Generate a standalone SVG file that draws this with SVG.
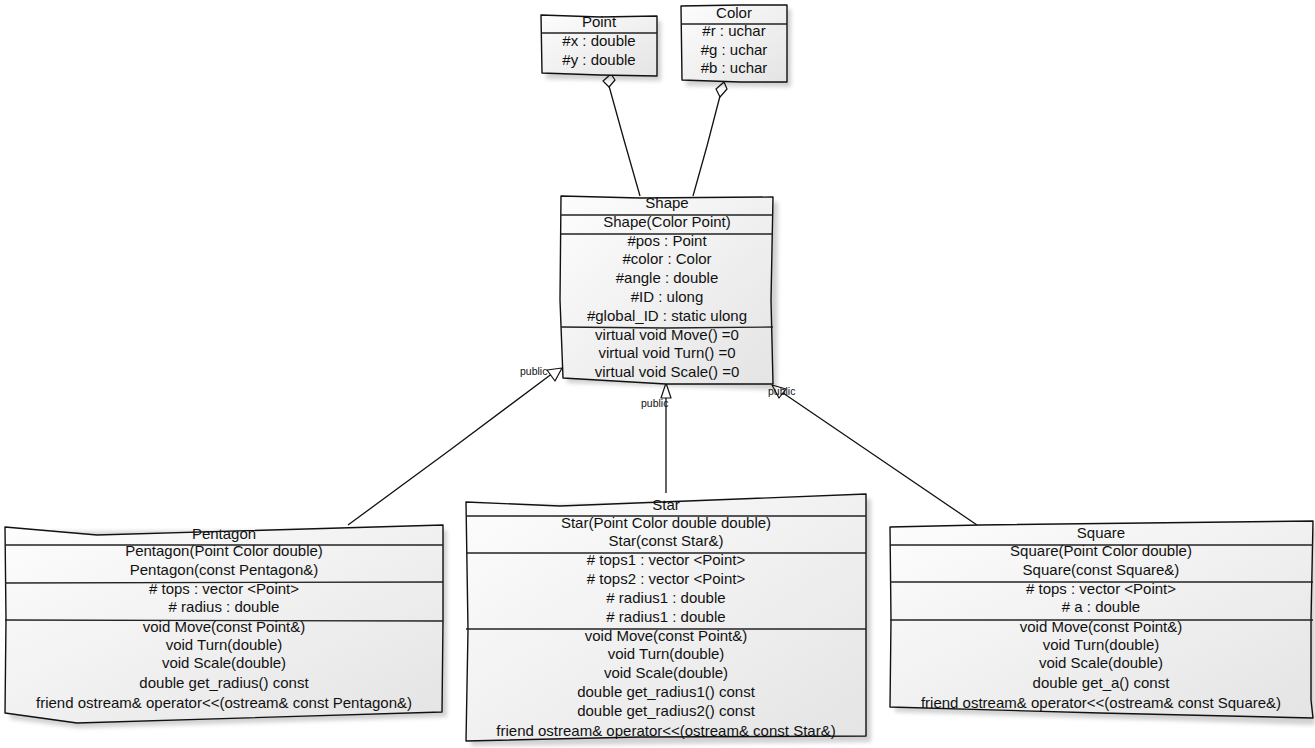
<svg xmlns="http://www.w3.org/2000/svg" width="1315" height="748" viewBox="0 0 1315 748">
  <style>
    .box { fill: url(#boxFill); stroke: #111; stroke-width: 1.4; stroke-linejoin: round; }
    .shadow { fill: #000; opacity: 0.18; filter: url(#soft); }
    .sep { fill: none; stroke: #222; stroke-width: 1.3; }
    .edge { fill: none; stroke: #111; stroke-width: 1.3; }
    .head { fill: #fff; stroke: #111; stroke-width: 1.2; stroke-linejoin: round; }
    text { font-family: "Liberation Sans", Arial, sans-serif; font-size: 15px; fill: #111; text-anchor: middle; }
    .lbl { font-size: 10.5px; text-anchor: start; fill: #111; }
  </style>
  <defs>
    <linearGradient id="boxFill" x1="0" y1="0" x2="1" y2="1">
      <stop offset="0" stop-color="#fdfdfd"/>
      <stop offset="1" stop-color="#e4e4e4"/>
    </linearGradient>
    <filter id="soft" x="-10%" y="-10%" width="120%" height="120%">
      <feGaussianBlur stdDeviation="2"/>
    </filter>
  </defs>

  <rect width="1315" height="748" fill="#fff"/>

  <!-- relationships -->
  <g id="connectors">
    <!-- aggregation Shape -> Point -->
    <polyline class="edge" points="609,86 624,140 640,196"/>
    <polygon class="head" points="611,74 615,80 609,87 603,81"/>
    <!-- aggregation Shape -> Color -->
    <polyline class="edge" points="720,96 707,146 693,196"/>
    <polygon class="head" points="724,82 727,89 720,97 716,89"/>
    <!-- Pentagon inherits Shape -->
    <polyline class="edge" points="348,525 450,450 553,373"/>
    <polygon class="head" points="562,368 547,370 555,381"/>
    <text class="lbl" x="520" y="375">public</text>
    <!-- Star inherits Shape -->
    <polyline class="edge" points="666,493 666,440 666,396"/>
    <polygon class="head" points="666,383 661,398 671,398"/>
    <text class="lbl" x="641" y="407">public</text>
    <!-- Square inherits Shape -->
    <polyline class="edge" points="977,525 880,459 783,393"/>
    <polygon class="head" points="772,385 779,398 786,389"/>
    <text class="lbl" x="768" y="395">public</text>
  </g>

  <!-- Point -->
  <g id="point">
    <polygon class="shadow" points="545,20 661,21 661,81 546,79"/>
    <polygon class="box" points="541,15 600,17 657,16 657,76 600,75 542,73"/>
    <polyline class="sep" points="541,33 657,33"/>
    <text x="599" y="27">Point</text>
    <text x="599" y="46">#x : double</text>
    <text x="599" y="65">#y : double</text>
  </g>

  <!-- Color -->
  <g id="color">
    <polygon class="shadow" points="685,10 791,9 791,87 686,86"/>
    <polygon class="box" points="681,6 740,5 787,5 787,82 740,82 682,80"/>
    <polyline class="sep" points="681,24 787,24"/>
    <text x="734" y="18">Color</text>
    <text x="734" y="36">#r : uchar</text>
    <text x="734" y="55">#g : uchar</text>
    <text x="734" y="73">#b : uchar</text>
  </g>

  <!-- Shape -->
  <g id="shape">
    <polygon class="shadow" points="566,201 778,202 777,390 567,383"/>
    <polygon class="box" points="561,196 640,198 773,197 771,300 773,384 666,384 563,378 560,300"/>
    <polyline class="sep" points="561,215 773,215"/>
    <polyline class="sep" points="561,234 773,234"/>
    <polyline class="sep" points="561,327 666,328 773,327"/>
    <text x="667" y="208">Shape</text>
    <text x="667" y="227">Shape(Color Point)</text>
    <text x="667" y="246">#pos : Point</text>
    <text x="667" y="264">#color : Color</text>
    <text x="667" y="283">#angle : double</text>
    <text x="667" y="302">#ID : ulong</text>
    <text x="667" y="321">#global_ID : static ulong</text>
    <text x="667" y="340">virtual void Move() =0</text>
    <text x="667" y="358">virtual void Turn() =0</text>
    <text x="667" y="377">virtual void Scale() =0</text>
  </g>

  <!-- Pentagon -->
  <g id="pentagon">
    <polygon class="shadow" points="10,532 447,530 447,717 80,728 10,719"/>
    <polygon class="box" points="5,527 97,535 443,525 443,620 442,712 77,723 5,713 6,620"/>
    <polyline class="sep" points="5,545 443,545"/>
    <polyline class="sep" points="5,583 443,582"/>
    <polyline class="sep" points="5,620 443,621"/>
    <text x="224" y="539">Pentagon</text>
    <text x="224" y="556">Pentagon(Point Color double)</text>
    <text x="224" y="575">Pentagon(const Pentagon&amp;)</text>
    <text x="224" y="594">#&#160;tops : vector &lt;Point&gt;</text>
    <text x="224" y="612">#&#160;radius : double</text>
    <text x="224" y="632">void Move(const Point&amp;)</text>
    <text x="224" y="650">void Turn(double)</text>
    <text x="224" y="668">void Scale(double)</text>
    <text x="224" y="688">double get_radius() const</text>
    <text x="224" y="708">friend ostream&amp; operator&lt;&lt;(ostream&amp; const Pentagon&amp;)</text>
  </g>

  <!-- Star -->
  <g id="star">
    <polygon class="shadow" points="471,507 871,499 871,742 471,746"/>
    <polygon class="box" points="466,502 560,506 866,494 866,630 866,736 640,737 466,741 468,630"/>
    <polyline class="sep" points="466,516 866,516"/>
    <polyline class="sep" points="466,553 866,553"/>
    <polyline class="sep" points="466,629 866,629"/>
    <text x="666" y="510">Star</text>
    <text x="666" y="528">Star(Point Color double double)</text>
    <text x="666" y="546">Star(const Star&amp;)</text>
    <text x="666" y="565">#&#160;tops1 : vector &lt;Point&gt;</text>
    <text x="666" y="584">#&#160;tops2 : vector &lt;Point&gt;</text>
    <text x="666" y="603">#&#160;radius1 : double</text>
    <text x="666" y="622">#&#160;radius1 : double</text>
    <text x="666" y="641">void Move(const Point&amp;)</text>
    <text x="666" y="659">void Turn(double)</text>
    <text x="666" y="678">void Scale(double)</text>
    <text x="666" y="697">double get_radius1() const</text>
    <text x="666" y="716">double get_radius2() const</text>
    <text x="666" y="736">friend ostream&amp; operator&lt;&lt;(ostream&amp; const Star&amp;)</text>
  </g>

  <!-- Square -->
  <g id="square">
    <polygon class="shadow" points="895,532 1315,527 1315,725 895,712"/>
    <polygon class="box" points="890,527 980,525 1313,521 1311,620 1311,700 1313,718 1100,713 890,707 891,620"/>
    <polyline class="sep" points="890,545 1313,545"/>
    <polyline class="sep" points="890,582 1313,582"/>
    <polyline class="sep" points="890,620 1313,620"/>
    <text x="1101" y="538">Square</text>
    <text x="1101" y="556">Square(Point Color double)</text>
    <text x="1101" y="575">Square(const Square&amp;)</text>
    <text x="1101" y="594">#&#160;tops : vector &lt;Point&gt;</text>
    <text x="1101" y="612">#&#160;a : double</text>
    <text x="1101" y="632">void Move(const Point&amp;)</text>
    <text x="1101" y="650">void Turn(double)</text>
    <text x="1101" y="668">void Scale(double)</text>
    <text x="1101" y="688">double get_a() const</text>
    <text x="1101" y="708">friend ostream&amp; operator&lt;&lt;(ostream&amp; const Square&amp;)</text>
  </g>
</svg>
